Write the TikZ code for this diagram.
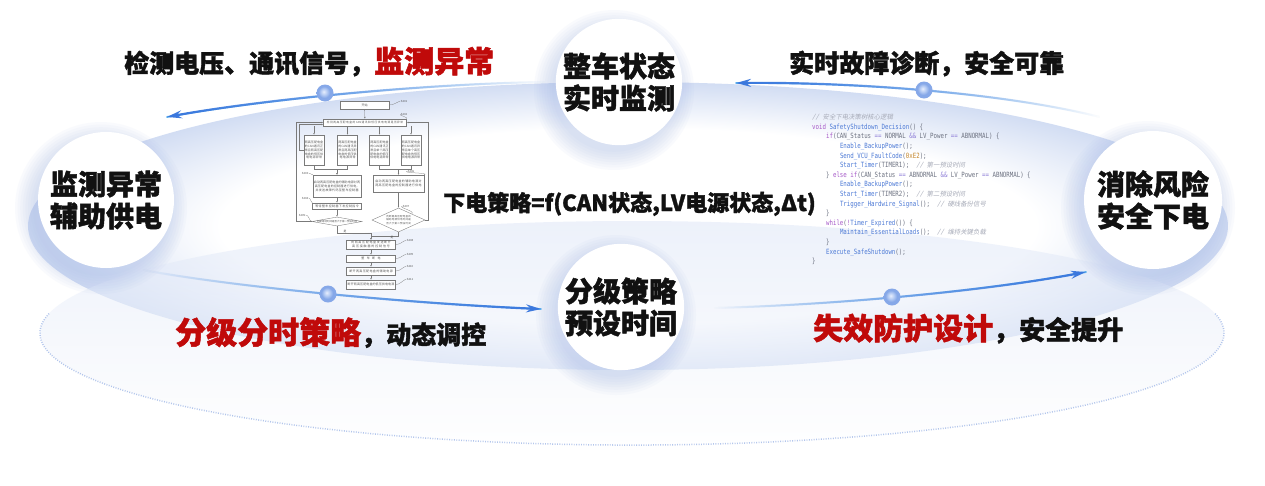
\documentclass[tikz,border=0pt]{standalone}
\usepackage{fontspec}
\setmainfont{Noto Sans CJK SC}[BoldFeatures={FakeBold=1.6}]
\newfontfamily\codefont{DejaVu Sans Mono}[FakeStretch=0.8]
\newfontfamily\codeitfont{DejaVu Sans Mono}[FakeStretch=0.8,FakeSlant=0.2]
\newfontfamily\cjkit{Noto Sans CJK SC}[FakeSlant=0.2]
\XeTeXlinebreaklocale "zh"
\XeTeXlinebreakskip=0pt plus 1pt
\usetikzlibrary{arrows.meta,shapes.geometric,fadings,calc}

\definecolor{ringblue}{HTML}{D2DDF3}
\definecolor{lowtop}{HTML}{DCE5F7}
\definecolor{dotline}{HTML}{B3C6EC}
\definecolor{shadowc}{HTML}{9FB4E4}
\definecolor{arrowdark}{HTML}{3A77DD}
\definecolor{arrowlight}{HTML}{62B4EE}
\definecolor{redc}{HTML}{C00A0A}
\definecolor{txt}{HTML}{111111}
\definecolor{dotlight}{HTML}{E6EEFD}
\definecolor{dotmid}{HTML}{B5CBF3}
\definecolor{dotdark}{HTML}{86A8E8}
\definecolor{cgray}{HTML}{6E7382}
\definecolor{cblue}{HTML}{4D7AD6}
\definecolor{cpurple}{HTML}{A659C8}
\definecolor{cop}{HTML}{8F7FD8}
\definecolor{ccomm}{HTML}{A7ABB8}
\definecolor{cnumc}{HTML}{C4862A}
\definecolor{fcline}{HTML}{7A7A7A}
\definecolor{fctext}{HTML}{555555}

\pgfdeclareradialshading{ringshade}{\pgfpointorigin}{color(0bp)=(white); color(17bp)=(white); color(25bp)=(ringblue); color(50bp)=(ringblue)}
\pgfdeclareradialshading{dotshade}{\pgfpoint{-4bp}{4bp}}{color(0bp)=(dotlight); color(9bp)=(dotmid); color(17bp)=(dotdark); color(25bp)=(dotdark); color(50bp)=(dotdark)}

\tikzfading[name=opL, left color=transparent!0, right color=transparent!100]
\tikzfading[name=opR, left color=transparent!100, right color=transparent!0]
\tikzfading[name=opLfast, left color=transparent!0, middle color=transparent!75, right color=transparent!100]
\tikzfading[name=opRfast, left color=transparent!100, middle color=transparent!75, right color=transparent!0]

\newcommand\ckw[1]{\textcolor{cpurple}{#1}}
\newcommand\cop[1]{\textcolor{cop}{#1}}
\newcommand\cfn[1]{\textcolor{cblue}{#1}}
\newcommand\ccm[1]{\textcolor{ccomm}{\codeitfont #1}}
\newcommand\cnumx[1]{\textcolor{cnumc}{#1}}
\newcommand\czh[1]{{\cjkit\fontsize{6.4}{9.6}\selectfont #1}}
\newcommand\ind{\hspace*{13.9pt}}

\begin{document}
\begin{tikzpicture}[x=1pt,y=-1pt,
  bigcircle/.style={circle, fill=white, inner sep=0, align=center,
    font=\bfseries\fontsize{28}{32}\selectfont, text=txt},
  lbl/.style={font=\bfseries\fontsize{25}{30}\selectfont, text=txt, inner sep=0},
  arrbase/.style={draw=arrowlight, line width=1.8pt, line cap=round},
  arrtop/.style={draw=arrowdark, line width=2.2pt},
  dotball/.style={circle, minimum size=17pt, inner sep=0, shade, shading=dotshade},
  fc/.style={draw=fcline, line width=0.35pt, fill=white, inner sep=0.6pt,
    font=\fontsize{3}{3.9}\selectfont, align=center, text=fctext},
  fcd/.style={diamond, draw=fcline, line width=0.35pt, fill=white, inner sep=0},
  fct/.style={font=\fontsize{2.5}{3.2}\selectfont, align=center, text=fctext, inner sep=0},
  fcl/.style={draw=fcline, line width=0.35pt, -{Latex[length=1.8pt,width=1.4pt]}},
  slab/.style={font=\fontsize{2.8}{3}\selectfont, text=fctext, inner sep=0.3pt},
  lead/.style={draw=fcline, line width=0.25pt}
]
\useasboundingbox (0,0) rectangle (1265,485);
\fill[white] (0,0) rectangle (1265,485);

% ---- background rings ----
\shade[shading=ringshade] (628,226) ellipse [x radius=600, y radius=144];
\shade[top color=lowtop, bottom color=white, fill opacity=0.5] (632,333) ellipse [x radius=592, y radius=112];
\draw[dotline, line width=1.5pt, dash pattern=on 0.9pt off 1.5pt]
  (49,313.6) arc[start angle=190, end angle=-10, x radius=592, y radius=112];

% ---- flowchart ----
\node[fc, minimum width=49pt, minimum height=8pt] (f1) at (364.5,105) {开始};
\node[fc, text width=82pt, minimum height=7pt, font=\fontsize{2.7}{3.2}\selectfont] (f2) at (365,122.5) {检测两高压配电盒的CAN通讯和低压供电电源是否异常};
\node[fc, text width=19pt, minimum height=30pt] (f3a) at (314,150) {两高压配电盒的CAN通讯正常且两高压配电盒的低压供电电源异常};
\node[fc, text width=19pt, minimum height=30pt] (f3b) at (347.5,150) {两高压配电盒的CAN通讯异常且两高压配电盒的低压供电电源异常};
\node[fc, text width=19pt, minimum height=30pt] (f3c) at (379.5,150) {两高压配电盒的CAN通讯正常且单个高压配电盒的低压供电电源异常};
\node[fc, text width=19pt, minimum height=30pt] (f3d) at (411,150) {两高压配电盒的CAN通讯异常且单个高压配电盒的低压供电电源异常};
\node[fc, text width=47pt, minimum height=22pt] (f4) at (337,186) {启动两高压配电盒的辅助电源对两高压配电盒的控制器进行供电，并发送故障代码至整车控制器};
\node[fc, text width=50pt, minimum height=17pt] (f5) at (398.5,183.5) {启动两高压配电盒的辅助电源对两高压配电盒的控制器进行供电};
\node[fc, text width=48pt, minimum height=6pt] (f6) at (337,206) {等待整车控制器下发控制指令};
\node[fcd, minimum width=50pt, minimum height=9pt] (f7) at (337,221.5) {};
\node[fct] (f7t) at (f7) {判断等待时间是否大于第一预设时间};
\node[fcd, minimum width=53pt, minimum height=24pt] (f8) at (398.5,220) {};
\node[fct, text width=27pt] (f8t) at (f8) {判断两高压配电盒的辅助电源供电时间是否大于第二预设时间};
\node[fc, text width=48pt, minimum height=9pt] (f9) at (371,244.5) {向两高压配电盒发送断开高压接触器的控制信号};
\node[fc, text width=48pt, minimum height=7pt] (f10) at (371,258.5) {整车断电};
\node[fc, text width=48pt, minimum height=8pt] (f11) at (371,271) {断开两高压配电盒的辅助电源};
\node[fc, text width=48pt, minimum height=9pt] (f12) at (371,284.5) {断开两高压配电盒的低压供电电源};

\draw[fcl] (f1) -- (f2);
\foreach \b in {f3a,f3b,f3c,f3d} \draw[fcl] (f2.south -| \b.north) -- (\b.north);
\draw[fcl] (f3a.south) -- ++(0,4) -| (f4.north);
\draw[fcl] (f3b.south) -- ++(0,4) -| (f4.north);
\draw[fcl] (f3c.south) -- ++(0,4) -| (f5.north);
\draw[fcl] (f3d.south) -- ++(0,4) -| (f5.north);
\draw[fcl] (f4) -- (f6);
\draw[fcl] (f6) -- (f7);
\draw[fcl] (f5) -- (f8);
\draw[fcl] (f7.west) -- ++(-16,0) |- (f2.west);
\draw[fcl] (f3a.west) -- ++(-5,0) |- ($(f2.west)+(0,2)$);
\draw[fcl] (f8.east) -- ++(3,0) |- (f2.east);
\draw[fcl] (f7.south) -- ++(0,7) -| (f9.north);
\draw[fcl] (f8.south) -- ++(0,4) -| (f9.north);
\draw[fcl] (f9) -- (f10);
\draw[fcl] (f10) -- (f11);
\draw[fcl] (f11) -- (f12);
\node[slab] (y1) at (345,231) {是};
\node[slab] (y2) at (392,237) {是};

\node[slab] (s201) at (404,101) {S201};
\node[slab] (s202) at (404,114) {S202};
\node[slab] (s203) at (305,173) {S203};
\node[slab] (s206) at (411,171) {S206};
\node[slab] (s204) at (305,198) {S204};
\node[slab] (s205) at (302,215) {S205};
\node[slab] (s207) at (406,206) {S207};
\node[slab] (s208) at (410,240) {S208};
\node[slab] (s209) at (410,254) {S209};
\node[slab] (s210) at (410,266) {S210};
\node[slab] (s211) at (410,279) {S211};
\draw[lead] (f1.east) to[out=0,in=200] (s201.west);
\draw[lead] (f2.north east) to[out=20,in=200] (s202.west);
\draw[lead] (s203.east) to[out=0,in=160] (f4.north west);
\draw[lead] (s206.west) to[out=200,in=20] (f5.north east);
\draw[lead] (s204.east) to[out=0,in=160] (f6.north west);
\draw[lead] (s205.east) to[out=0,in=160] (f7.west);
\draw[lead] (s207.west) to[out=200,in=40] (f8.north east);
\draw[lead] (f9.east) to[out=0,in=200] (s208.west);
\draw[lead] (f10.east) to[out=0,in=200] (s209.west);
\draw[lead] (f11.east) to[out=0,in=200] (s210.west);
\draw[lead] (f12.east) to[out=0,in=200] (s211.west);

% ---- code ----
\node[anchor=north west, inner sep=0, align=left, text=cgray,
  font=\codefont\fontsize{7.2}{9.6}\selectfont] (code) at (812,114) {%
\ccm{// \czh{安全下电决策树核心逻辑}}\\
\ckw{void} \cfn{SafetyShutdown\_Decision}() \{\\
\ind\ckw{if}(CAN\_Status \cop{==} NORMAL \cop{\&\&} LV\_Power \cop{==} ABNORMAL) \{\\
\ind\ind\cfn{Enable\_BackupPower}();\\
\ind\ind\cfn{Send\_VCU\_FaultCode}(\cnumx{0xE2});\\
\ind\ind\cfn{Start\_Timer}(TIMER1);\ \ \ccm{// \czh{第一预设时间}}\\
\ind\} \ckw{else if}(CAN\_Status \cop{==} ABNORMAL \cop{\&\&} LV\_Power \cop{==} ABNORMAL) \{\\
\ind\ind\cfn{Enable\_BackupPower}();\\
\ind\ind\cfn{Start\_Timer}(TIMER2);\ \ \ccm{// \czh{第二预设时间}}\\
\ind\ind\cfn{Trigger\_Hardwire\_Signal}();\ \ \ccm{// \czh{硬线备份信号}}\\
\ind\}\\
\ind\ckw{while}(\ckw{!}\cfn{Timer\_Expired}()) \{\\
\ind\ind\cfn{Maintain\_EssentialLoads}();\ \ \ccm{// \czh{维持关键负载}}\\
\ind\}\\
\ind\cfn{Execute\_SafeShutdown}();\\
\}};

% ---- circles ----
\coordinate (cT) at (619,82);
\coordinate (cL) at (106,200);
\coordinate (cR) at (1153,200);
\coordinate (cB) at (621,307);
\foreach \cc/\rr in {cT/62,cB/62,cL/68,cR/69}{
  \foreach \k in {0,...,7}{
    \fill[shadowc, opacity=0.055] ($(\cc)+(-5,8)$) circle[radius=\rr+18-2.6*\k];
  }
}
\node[bigcircle, minimum size=124pt] (T) at (cT) {整车状态\\实时监测};
\node[bigcircle, minimum size=136pt] (L) at (cL) {监测异常\\辅助供电};
\node[bigcircle, minimum size=138pt] (R) at (cR) {消除风险\\安全下电};
\node[bigcircle, minimum size=124pt] (B) at (cB) {分级策略\\预设时间};

% ---- arrows ----
\coordinate (a1t) at (545,82);   \coordinate (a1h) at (167,117);
\coordinate (a2t) at (1100,117); \coordinate (a2h) at (736,83);
\coordinate (a3t) at (143,270);  \coordinate (a3h) at (541,309);
\coordinate (a4t) at (714,308);  \coordinate (a4h) at (1086,272);

\draw[arrbase, path fading=opL] (a1t) .. controls (420,84) and (260,100) .. (a1h);
\draw[arrtop, path fading=opLfast, -{Stealth[length=15pt,width=8pt]}] (a1t) .. controls (420,84) and (260,100) .. (a1h);
\draw[arrbase, path fading=opL] (a2t) .. controls (1000,92) and (850,82) .. (a2h);
\draw[arrtop, path fading=opLfast, -{Stealth[length=15pt,width=8pt]}] (a2t) .. controls (1000,92) and (850,82) .. (a2h);
\draw[arrbase, path fading=opR] (a3t) .. controls (240,288) and (420,304) .. (a3h);
\draw[arrtop, path fading=opRfast, -{Stealth[length=15pt,width=8pt]}] (a3t) .. controls (240,288) and (420,304) .. (a3h);
\draw[arrbase, path fading=opR] (a4t) .. controls (830,305) and (980,292) .. (a4h);
\draw[arrtop, path fading=opRfast, -{Stealth[length=15pt,width=8pt]}] (a4t) .. controls (830,305) and (980,292) .. (a4h);

\node[dotball] (d1) at (325,93) {};
\node[dotball] (d2) at (924,90) {};
\node[dotball] (d3) at (328,294) {};
\node[dotball] (d4) at (892,297) {};

% ---- labels ----
\node[lbl, anchor=base west] (lab1) at (124,72.5) {检测电压、通讯信号，\textcolor{redc}{\fontsize{30}{30}\selectfont 监测异常}};
\node[lbl, anchor=base west] (lab2) at (789,72.5) {实时故障诊断，安全可靠};
\node[lbl, anchor=base west, font=\bfseries\fontsize{22}{28}\selectfont] (formula) at (443,211) {下电策略=f(CAN状态,LV电源状态,Δt)};
\node[lbl, anchor=base west] (lab3) at (175,344) {\textcolor{redc}{\fontsize{31}{31}\selectfont 分级分时策略}，动态调控};
\node[lbl, anchor=base west, font=\bfseries\fontsize{26}{30}\selectfont] (lab4) at (813,339.5) {\textcolor{redc}{\fontsize{30}{30}\selectfont 失效防护设计}，安全提升};
\end{tikzpicture}
\end{document}
